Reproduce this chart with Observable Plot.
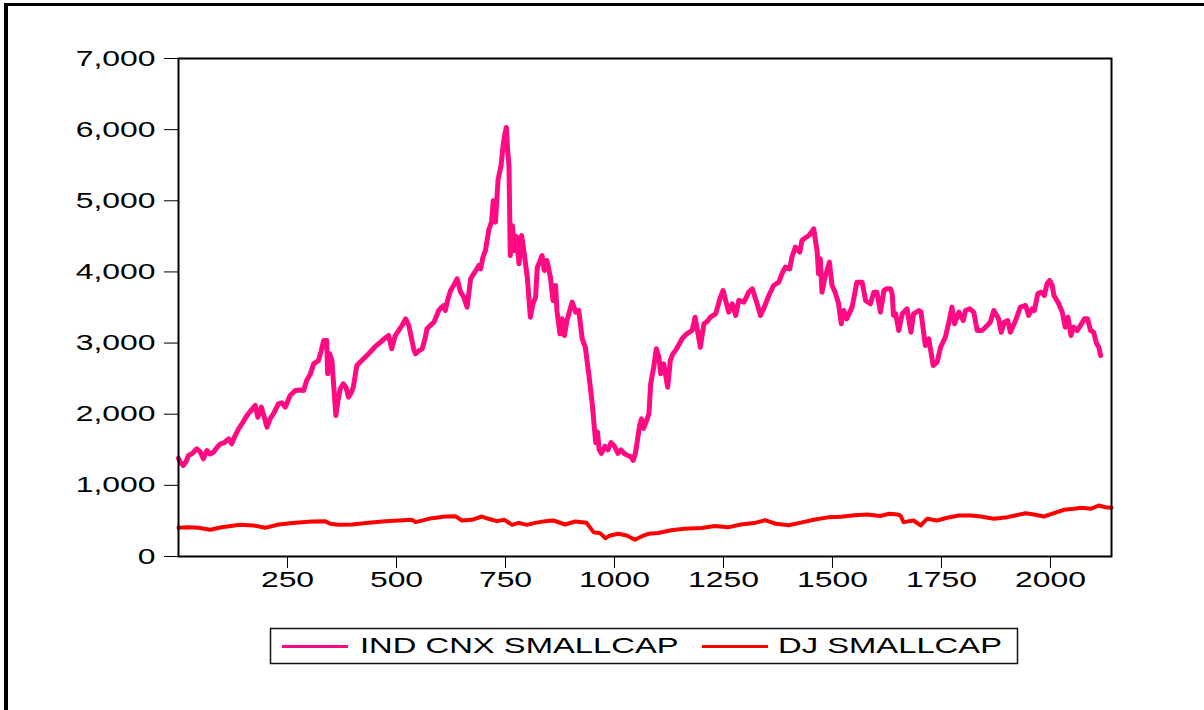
<!DOCTYPE html>
<html><head><meta charset="utf-8">
<script src="https://cdn.jsdelivr.net/npm/d3@7"></script>
<script src="https://cdn.jsdelivr.net/npm/@observablehq/plot@0.6"></script>
<style>
html,body{margin:0;padding:0;background:#fff;width:1204px;height:710px;overflow:hidden}
#wrap{position:relative;width:1204px;height:710px}
#border{position:absolute;left:4px;top:3px;width:1300px;height:800px;border-left:4px solid #000;border-top:3px solid #000;box-sizing:border-box}
#chart{position:absolute;left:0;top:0}
#legend{position:absolute;left:0;top:0}
</style></head><body>
<div id="wrap"><div id="border"></div><div id="chart"></div><svg id="legend" width="1204" height="710"></svg></div>
<script>
const seriesNames = ["IND CNX SMALLCAP", "DJ SMALLCAP"];
const seriesColors = ["#ff0a82", "#ff0000"];
const xTicks = [250, 500, 750, 1000, 1250, 1500, 1750, 2000];
const yTicks = [0, 1000, 2000, 3000, 4000, 5000, 6000, 7000];

const cnxIndex = [0,4,11,17,23,32,42,50,57,65,72,80,88,96,105,115,122,130,138,147,157,166,176,182,190,197,203,210,219,229,237,245,256,268,278,287,294,302,310,321,327,333,340,342,347,352,356,361,366,371,378,384,390,396,401,409,418,428,436,443,451,459,470,482,489,497,505,513,521,528,535,540,544,552,559,565,570,578,586,597,603,609,612,618,624,632,639,647,654,662,670,677,683,689,693,698,704,712,718,722,727,733,740,745,749,752,755,758,761,766,770,775,781,787,792,800,807,813,819,823,829,834,839,845,853,859,865,868,875,880,885,891,897,903,911,918,926,933,941,949,952,957,961,965,970,978,985,992,1000,1008,1015,1022,1030,1038,1043,1048,1053,1058,1062,1067,1073,1079,1083,1090,1096,1102,1106,1113,1122,1128,1134,1140,1148,1155,1166,1178,1185,1197,1205,1212,1220,1232,1243,1249,1257,1262,1270,1278,1285,1297,1308,1316,1326,1335,1342,1354,1365,1377,1384,1392,1402,1407,1415,1425,1430,1438,1446,1452,1457,1465,1468,1472,1476,1483,1493,1499,1506,1514,1520,1526,1533,1545,1556,1568,1576,1587,1595,1602,1610,1618,1625,1633,1637,1640,1645,1652,1660,1671,1680,1686,1698,1703,1713,1721,1731,1740,1748,1759,1767,1774,1780,1790,1800,1805,1815,1824,1832,1843,1855,1862,1870,1881,1887,1894,1902,1908,1920,1931,1943,1950,1958,1963,1971,1978,1986,1992,1998,2004,2008,2019,2027,2034,2040,2047,2053,2061,2069,2078,2085,2092,2099,2106,2111,2115];
const cnxValue = [1380,1326,1279,1330,1420,1450,1514,1470,1373,1490,1440,1466,1530,1584,1600,1654,1584,1700,1795,1880,1982,2050,2123,1958,2099,1950,1818,1935,2020,2146,2160,2099,2263,2333,2340,2333,2474,2560,2708,2755,2880,3036,3036,2568,2850,2755,2400,1982,2200,2357,2427,2380,2240,2300,2380,2685,2740,2802,2850,2896,2950,2990,3050,3107,2920,3100,3177,3250,3340,3250,3050,2900,2849,2896,2920,3050,3200,3250,3294,3458,3500,3528,3458,3620,3739,3820,3903,3716,3650,3505,3903,3974,4030,4091,4044,4200,4300,4600,4700,5000,4700,5300,5500,5800,5950,6030,5700,5500,4231,4650,4300,4500,4114,4512,4301,3927,3364,3550,3646,4067,4150,4231,4020,4161,3927,3599,3809,3458,3130,3341,3107,3317,3450,3575,3435,3458,3060,2942,2568,2146,1935,1600,1750,1500,1450,1550,1500,1600,1550,1450,1500,1450,1420,1400,1350,1450,1650,1850,1935,1800,1900,2006,2427,2661,2920,2802,2568,2708,2380,2755,2850,2896,2980,3060,3130,3177,3364,2942,3271,3300,3364,3411,3646,3739,3552,3435,3552,3388,3599,3575,3716,3763,3575,3388,3482,3669,3809,3856,3974,4067,4044,4208,4348,4278,4442,4480,4512,4560,4606,4278,3974,4184,3716,3927,4137,3809,3716,3552,3271,3458,3341,3505,3856,3856,3599,3552,3716,3716,3435,3739,3763,3763,3693,3388,3411,3177,3411,3482,3153,3411,3458,3435,2966,3060,2685,2732,2942,3083,3294,3505,3271,3435,3317,3458,3482,3435,3177,3177,3247,3294,3458,3341,3153,3294,3317,3153,3317,3505,3528,3388,3482,3458,3693,3716,3669,3833,3880,3809,3669,3552,3435,3224,3364,3107,3224,3177,3247,3341,3341,3177,3153,2990,2942,2826];

const djIndex = [0,23,46,73,99,141,172,199,229,268,306,336,348,367,398,436,474,505,535,544,581,612,635,650,673,696,711,730,748,765,780,799,818,841,860,887,910,936,952,967,979,990,1009,1028,1047,1063,1078,1100,1130,1160,1200,1230,1260,1290,1320,1345,1370,1400,1430,1460,1490,1520,1550,1580,1610,1630,1650,1656,1663,1686,1702,1717,1740,1763,1790,1817,1840,1870,1901,1943,1962,1985,2008,2031,2054,2072,2092,2111,2126,2140];
const djValue = [403,412,403,375,412,445,436,403,450,473,492,497,459,445,450,473,497,506,516,483,539,562,567,506,516,562,530,497,516,445,473,445,473,497,506,450,492,473,342,328,258,295,319,295,235,285,319,330,370,390,400,430,410,450,470,510,460,440,480,520,550,560,580,590,570,600,590,576,483,506,436,530,506,544,576,576,562,530,553,609,590,562,609,656,670,684,670,717,693,684];

const cnxData = cnxIndex.map((i, k) => ({i, v: cnxValue[k]}));
const djData = djIndex.map((i, k) => ({i, v: djValue[k]}));

const FONT = "'Liberation Sans', Arial, Helvetica, sans-serif";
const STRETCH = 1.45;
const LEGEND_STRETCH = 1.49;

const chart = Plot.plot({
  width: 1204, height: 610,
  marginLeft: 178, marginRight: 93, marginTop: 58, marginBottom: 54,
  style: {fontFamily: FONT, fontSize: "22px", color: "#000", background: "transparent", overflow: "visible"},
  x: {domain: [0, 2140], ticks: xTicks, tickSize: 12, tickPadding: 3, tickFormat: d => String(d), label: null},
  y: {domain: [0, 7000], ticks: yTicks, tickSize: 14, tickPadding: 9, tickFormat: d3.format(","), label: null},
  marks: [
    Plot.line(djData, {x: "i", y: "v", stroke: seriesColors[1], strokeWidth: 4, strokeLinejoin: "round", strokeLinecap: "round"}),
    Plot.line(cnxData, {x: "i", y: "v", stroke: seriesColors[0], strokeWidth: 5, strokeLinejoin: "round", strokeLinecap: "round"}),
    Plot.frame({stroke: "#000", strokeWidth: 2})
  ]
});
chart.querySelectorAll('g[aria-label$="tick label"] text').forEach(t => {
  const tr = t.getAttribute("transform");
  if (tr) t.setAttribute("transform", tr + ` scale(${STRETCH},1)`);
  else {
    const x = +t.getAttribute("x") || 0, y = +t.getAttribute("y") || 0;
    t.removeAttribute("x"); t.removeAttribute("y");
    t.setAttribute("transform", `translate(${x},${y}) scale(${STRETCH},1)`);
  }
});
document.getElementById("chart").appendChild(chart);

// legend below the plot
const lg = d3.select("#legend");
lg.append("rect").attr("x", 270.5).attr("y", 628.5).attr("width", 747).attr("height", 35)
  .attr("fill", "none").attr("stroke", "#111").attr("stroke-width", 1.5);
const items = [{x0: 282, x1: 348, tx: 360}, {x0: 702, x1: 768, tx: 778}];
items.forEach((it, k) => {
  lg.append("line").attr("x1", it.x0).attr("x2", it.x1).attr("y1", 646.5).attr("y2", 646.5)
    .attr("stroke", seriesColors[k]).attr("stroke-width", 3);
  lg.append("text").attr("transform", `translate(${it.tx},653) scale(${LEGEND_STRETCH},1)`)
    .attr("font-family", FONT).attr("font-size", 22).attr("fill", "#000").text(seriesNames[k]);
});
</script>
</body></html>
